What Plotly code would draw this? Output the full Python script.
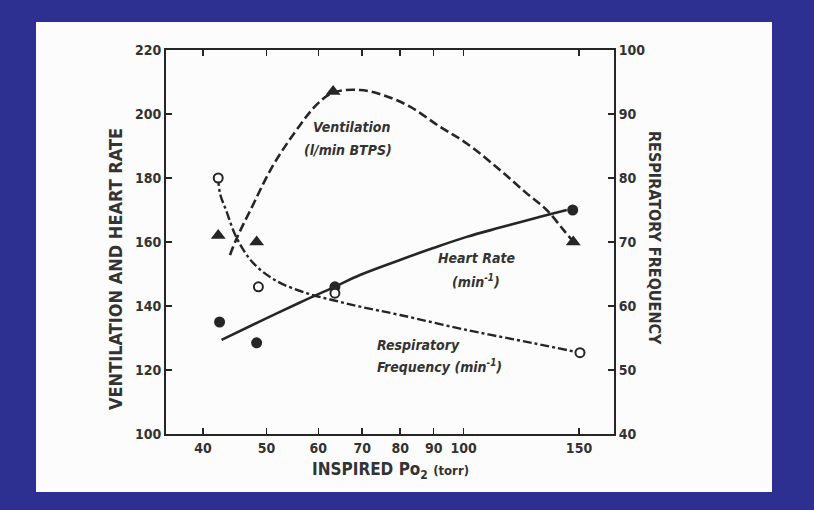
import plotly.graph_objects as go

# ---------------- data ----------------
x_ticks = [40, 50, 60, 70, 80, 90, 100, 150]
x_tick_labels = ["40", "50", "60", "70", "80", "90", "100", "150"]
left_ticks = [100, 120, 140, 160, 180, 200, 220]
right_ticks = [40, 50, 60, 70, 80, 90, 100]

# measured points
hr_x = [42.4, 48.3, 63.6, 146.7]
hr_y = [135, 128.5, 146, 170]            # heart rate (left axis)

vent_x = [42.2, 48.3, 63.2, 147.0]
vent_y = [162, 160, 207, 160]            # ventilation (left axis)

rf_x = [42.2, 48.6, 63.6, 150.5]
rf_y = [80, 63, 62, 52.7]                # respiratory frequency (right axis)

# hand-drawn fit curves
vent_curve_x = [43.98, 45.04, 47.19, 51.2, 56.25, 59.7, 63.22, 69.46, 75.4, 82.8,
                92.0, 101.1, 113.6, 124.8, 133.9, 142.0, 147.0]
vent_curve_y = [155.9, 161.2, 169.7, 184.0, 196.5, 203.0, 206.7, 207.5, 205.9, 202.3,
                196.0, 190.8, 182.5, 175.2, 170.0, 163.8, 160.1]

hr_curve_x = [42.7, 48.87, 56.25, 63.4, 69.46, 79.94, 89.87, 101.08, 113.6, 127.6, 143.7]
hr_curve_y = [129.4, 135.2, 141.1, 145.9, 149.7, 154.4, 158.1, 161.6, 164.5, 167.3, 170.0]

rf_curve_x = [42.2, 42.46, 43.37, 45.04, 47.74, 51.83, 57.6, 63.22, 69.46, 79.94,
              101.08, 127.6, 150.5]
rf_curve_y = [80.2, 77.6, 75.0, 70.6, 66.7, 63.9, 62.0, 60.9, 59.9, 58.6,
              56.25, 54.2, 52.7]

# ---------------- styling / layout ----------------
W, H = 814, 510
PL, PR, PT, PB = 166, 614, 50, 434          # plot area in pixels
BLUE = "#2e3091"
INK = "#262626"
FONT = "Liberation Sans Narrow, DejaVu Sans Condensed, Arial Narrow, sans-serif"


def px(xp):
    return (xp - PL) / (PR - PL)


def py(yp):
    return (PB - yp) / (PB - PT)


fig = go.Figure()

# curves
fig.add_trace(go.Scatter(x=vent_curve_x, y=vent_curve_y, mode="lines",
                         line=dict(color=INK, width=2.6, dash="9px,4px"),
                         line_shape="spline", hoverinfo="skip", showlegend=False))
fig.add_trace(go.Scatter(x=hr_curve_x, y=hr_curve_y, mode="lines",
                         line=dict(color=INK, width=2.6),
                         line_shape="spline", hoverinfo="skip", showlegend=False))
fig.add_trace(go.Scatter(x=rf_curve_x, y=rf_curve_y, mode="lines", yaxis="y2",
                         line=dict(color=INK, width=2.4, dash="9px,3px,3px,3px"),
                         line_shape="spline", hoverinfo="skip", showlegend=False))

# markers
fig.add_trace(go.Scatter(x=hr_x, y=hr_y, mode="markers", name="Heart Rate",
                         marker=dict(symbol="circle", size=11, color=INK),
                         showlegend=False))
fig.add_trace(go.Scatter(x=vent_x, y=vent_y, mode="markers", name="Ventilation",
                         marker=dict(symbol="triangle-up", size=13, color=INK),
                         showlegend=False))
fig.add_trace(go.Scatter(x=rf_x, y=rf_y, mode="markers", yaxis="y2",
                         name="Respiratory Frequency",
                         marker=dict(symbol="circle", size=9, color="white",
                                     line=dict(color=INK, width=2)),
                         showlegend=False))

tickfont = dict(family=FONT, size=14, color="#333333", weight="bold")
axis_common = dict(showgrid=False, zeroline=False, showline=True, linecolor=INK,
                   linewidth=2, ticks="inside", ticklen=6, tickwidth=1.5,
                   tickcolor=INK, tickfont=tickfont)

fig.update_layout(
    width=W, height=H,
    margin=dict(l=PL, r=W - PR, t=PT, b=H - PB, pad=0),
    paper_bgcolor=BLUE, plot_bgcolor="#fcfcfd",
    xaxis=dict(type="log", range=[1.5456, 2.2295], tickvals=x_ticks,
               ticktext=x_tick_labels, mirror="ticks", **axis_common),
    yaxis=dict(range=[100, 220], tickvals=left_ticks, **axis_common),
    yaxis2=dict(range=[40, 100], tickvals=right_ticks, overlaying="y",
                side="right", **axis_common),
    shapes=[dict(type="rect", xref="paper", yref="paper", layer="below",
                 x0=px(36), x1=px(772), y0=py(492), y1=py(22),
                 fillcolor="#fcfcfd", line=dict(width=0))],
)

ann_font = dict(family=FONT, size=14, color="#333333", weight="bold", style="italic")
annotations = [
    dict(text="VENTILATION AND HEART RATE", x=px(115), y=py(269), textangle=-90,
         font=dict(family=FONT, size=18, color="#333333", weight="bold")),
    dict(text="RESPIRATORY FREQUENCY", x=px(655), y=py(238), textangle=90,
         font=dict(family=FONT, size=16, color="#333333", weight="bold")),
    dict(text="INSPIRED Po<sub>2</sub> <span style='font-size:13px'>(torr)</span>",
         x=px(390), y=py(470),
         font=dict(family=FONT, size=17, color="#333333", weight="bold")),
    dict(text="Ventilation", x=px(351), y=py(127), font=ann_font),
    dict(text="(l/min BTPS)", x=px(348), y=py(150), font=ann_font),
    dict(text="Heart Rate", x=px(476), y=py(258), font=ann_font),
    dict(text="(min<sup>-1</sup>)", x=px(476), y=py(281), font=ann_font),
    dict(text="Respiratory", x=px(375), y=py(345), xanchor="left", font=ann_font),
    dict(text="Frequency (min<sup>-1</sup>)", x=px(375), y=py(366), xanchor="left",
         font=ann_font),
]
for a in annotations:
    a.setdefault("xanchor", "center")
    fig.add_annotation(xref="paper", yref="paper", showarrow=False, yanchor="middle", **a)

fig.write_html("out.html",
               config={"displayModeBar": False, "staticPlot": True},
               post_script="document.body.style.margin='0px';"
                           "document.body.style.overflow='hidden';"
                           "document.body.style.background='%s';" % BLUE)
